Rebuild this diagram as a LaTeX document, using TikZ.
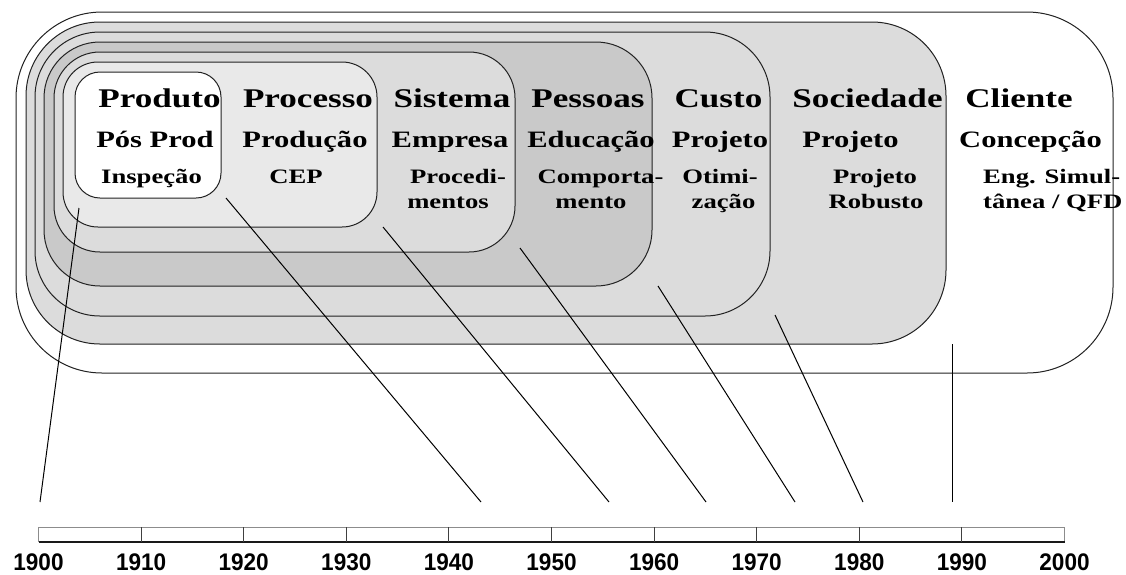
\documentclass[tikz,border=0pt]{standalone}
\usepackage{fontspec}
\usetikzlibrary{calc}
\setmainfont{Liberation Serif}
\newfontfamily\labfont[FakeStretch=1.3]{Liberation Serif}
\newfontfamily\yearfont[FakeStretch=0.94]{Liberation Sans}
\definecolor{shadeA}{HTML}{DCDCDC}
\definecolor{shadeB}{HTML}{C9C9C9}
\definecolor{shadeC}{HTML}{E9E9E9}
\definecolor{edge}{HTML}{222222}
\tikzset{
  area/.style={draw=edge, line width=1pt, inner sep=0pt, outer sep=0pt},
  head/.style={font=\labfont\bfseries\fontsize{27}{30}\selectfont, anchor=base, inner sep=0pt},
  sub/.style={font=\labfont\bfseries\fontsize{23.5}{26}\selectfont, anchor=base, inner sep=0pt},
  detail/.style={font=\labfont\bfseries\fontsize{20.5}{23}\selectfont, anchor=base, inner sep=0pt},
  year/.style={font=\yearfont\bfseries\fontsize{24}{26}\selectfont, anchor=base, inner sep=0pt},
  link/.style={draw=black, line width=1pt},
}
\begin{document}
\begin{tikzpicture}[x=1pt, y=-1pt]
\useasboundingbox (0,0) rectangle (1126,574);

% nested quality eras, outermost first
\node[area, fill=white,  minimum width=1097pt, minimum height=361pt, rounded corners=86pt] (cliente)   at (564.5,192.5) {};
\node[area, fill=shadeA, minimum width=920pt,  minimum height=322pt, rounded corners=74pt] (sociedade) at (486,183) {};
\node[area, fill=shadeA, minimum width=735pt,  minimum height=284pt, rounded corners=65pt] (custo)     at (402.5,174) {};
\node[area, fill=shadeB, minimum width=608pt,  minimum height=244pt, rounded corners=56pt] (pessoas)   at (348,164) {};
\node[area, fill=shadeA, minimum width=461pt,  minimum height=200pt, rounded corners=46pt] (sistema)   at (284.5,152) {};
\node[area, fill=shadeC, minimum width=314pt,  minimum height=165pt, rounded corners=35pt] (processo)  at (220,144.5) {};
\node[area, fill=white,  minimum width=146pt,  minimum height=126pt, rounded corners=25pt] (produto)   at (148,135) {};

% headings
\node[head] (hProduto)   at (159.5,107) {Produto};
\node[head] (hProcesso)  at (308,107)   {Processo};
\node[head] (hSistema)   at (452,107)   {Sistema};
\node[head] (hPessoas)   at (588,107)   {Pessoas};
\node[head] (hCusto)     at (718.5,107) {Custo};
\node[head] (hSociedade) at (867.5,107) {Sociedade};
\node[head] (hCliente)   at (1019,107)  {Cliente};

% focus of each era
\node[sub] (sPosProd)   at (155,147)   {Pós Prod};
\node[sub] (sProducao)  at (305,147)   {Produção};
\node[sub] (sEmpresa)   at (450,147)   {Empresa};
\node[sub] (sEducacao)  at (591,147)   {Educação};
\node[sub] (sProjetoA)  at (720,147)   {Projeto};
\node[sub] (sProjetoB)  at (850.5,147) {Projeto};
\node[sub] (sConcepcao) at (1030.5,147){Concepção};

% tools of each era
\node[detail] (dInspecao) at (151.5,183) {Inspeção};
\node[detail] (dCEP)      at (296,183)   {CEP};
\node[detail] (dProcA)    at (458,183)   {Procedi-};
\node[detail] (dProcB)    at (448,208)   {mentos};
\node[detail] (dCompA)    at (600.5,183) {Comporta-};
\node[detail] (dCompB)    at (591,208)   {mento};
\node[detail] (dOtimA)    at (720,183)   {Otimi-};
\node[detail] (dOtimB)    at (723.5,208) {zação};
\node[detail] (dRobA)     at (875,183)   {Projeto};
\node[detail] (dRobB)     at (876,208)   {Robusto};
\node[detail, anchor=base west] (dEngA) at (983,183) {Eng. Simul-};
\node[detail, anchor=base west] (dEngB) at (983,208) {tânea / QFD};

% time scale 1900-2000
\node[inner sep=0pt, outer sep=0pt, minimum width=1026pt, minimum height=15pt] (scale) at (551.5,534.5) {};
\draw[draw=black!45, line width=1pt] (scale.south west) -- (scale.north west) -- (scale.north east) -- (scale.south east);
\draw[draw=black!90, line width=1.2pt] (scale.south west) -- (scale.south east);
\foreach \k in {1,...,9} {
  \draw[draw=black!75, line width=1.1pt] ($(scale.north west)+(\k*102.6,0)$) -- ($(scale.south west)+(\k*102.6,0)$);
}
\foreach \k in {0,...,10} {
  \pgfmathtruncatemacro{\yr}{1900+10*\k}
  \node[year] (y\yr) at ($(scale.south west)+(\k*102.6,28.5)$) {\yr};
}

% start of each era on the time scale
\coordinate (pStart) at (79,208);   \coordinate (pEnd) at (40,502);
\coordinate (rStart) at (226,198);  \coordinate (rEnd) at (481,502);
\coordinate (sStart) at (383,227);  \coordinate (sEnd) at (609,502);
\coordinate (eStart) at (520,248);  \coordinate (eEnd) at (706,502);
\coordinate (cStart) at (658,286);  \coordinate (cEnd) at (795,502);
\coordinate (oStart) at (775,315);  \coordinate (oEnd) at (863,502);
\coordinate (lStart) at (952,344);  \coordinate (lEnd) at (952,502);
\draw[link] (pStart) -- (pEnd);
\draw[link] (rStart) -- (rEnd);
\draw[link] (sStart) -- (sEnd);
\draw[link] (eStart) -- (eEnd);
\draw[link] (cStart) -- (cEnd);
\draw[link] (oStart) -- (oEnd);
\draw[link] (lStart) -- (lEnd);
\end{tikzpicture}
\end{document}
